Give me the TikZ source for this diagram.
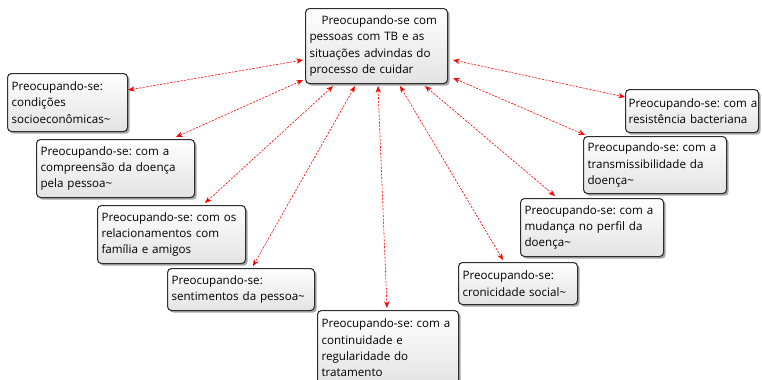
\documentclass[tikz,border=0pt]{standalone}
\usepackage{fontspec}
\setmainfont{Open Sans}
\usetikzlibrary{shadows,arrows.meta}
\def\px{0.75pt}
\tikzset{
  box/.style={draw=gray!35!black, line width=0.8pt, rounded corners=3pt,
    top color=white, bottom color=gray!22,
    drop shadow={shadow xshift=1.6pt, shadow yshift=-1.6pt, opacity=0.35, fill=black},
    anchor=north west, align=left, inner xsep=4*\px, inner ysep=3*\px,
    font=\fontsize{8.7pt}{12.3pt}\selectfont\frenchspacing, text=black},
  link/.style={red, line width=0.45pt, dash pattern=on 1.6pt off 1pt, {Stealth[length=5pt,width=4pt]}-{Stealth[length=5pt,width=4pt]}}
}
\begin{document}
\begin{tikzpicture}[x=0.75pt,y=-0.75pt]
\useasboundingbox (0,0) rectangle (762,379);
\node[box, text width=134*\px, minimum height=75*\px] (c) at (305,8) {\hspace*{9pt}Preocupando-se com\\pessoas com TB e as\\situações advindas do\\processo de cuidar};
\node[box, text width=112*\px, minimum height=58*\px] (a1) at (7,73) {Preocupando-se:\\condições\\socioeconômicas\textasciitilde};
\node[box, text width=150*\px, minimum height=58*\px] (a2) at (36,139) {Preocupando-se: com a\\compreensão da doença\\pela pessoa\textasciitilde};
\node[box, text width=140*\px, minimum height=58*\px] (a3) at (97,205) {Preocupando-se: com os\\relacionamentos com\\família e amigos};
\node[box, text width=139*\px, minimum height=42*\px] (a4) at (167,268) {Preocupando-se:\\sentimentos da pessoa\textasciitilde};
\node[box, text width=133*\px, minimum height=75*\px] (a5) at (317,310) {Preocupando-se: com a\\continuidade e\\regularidade do\\tratamento};
\node[box, text width=111*\px, minimum height=42*\px] (a6) at (458,262) {Preocupando-se:\\cronicidade social\textasciitilde};
\node[box, text width=135*\px, minimum height=58*\px] (a7) at (520,198) {Preocupando-se: com a\\mudança no perfil da\\doença\textasciitilde};
\node[box, text width=135*\px, minimum height=57*\px] (a8) at (583,136) {Preocupando-se: com a\\transmissibilidade da\\doença\textasciitilde};
\node[box, text width=127*\px, inner xsep=3*\px, minimum height=43*\px] (a9) at (625,89) {\mbox{Preocupando-se: com a}\\resistência bacteriana};

\draw[link] ([xshift=-2*\px,yshift=-52*\px]c.north west) -- ([yshift=-17*\px]a1.north east);
\draw[link] ([xshift=-2*\px,yshift=4*\px]c.south west) -- ([xshift=140*\px,yshift=2*\px]a2.north west);
\draw[link] ([xshift=28*\px,yshift=-2*\px]c.south west) -- ([xshift=108*\px,yshift=2*\px]a3.north west);
\draw[link] ([xshift=50*\px,yshift=-2*\px]c.south west) -- ([xshift=86*\px,yshift=2*\px]a4.north west);
\draw[link] ([xshift=73*\px,yshift=-2*\px]c.south west) -- ([xshift=70*\px,yshift=2*\px]a5.north west);
\draw[link] ([xshift=95*\px,yshift=-2*\px]c.south west) -- ([xshift=45*\px,yshift=2*\px]a6.north west);
\draw[link] ([xshift=120*\px,yshift=-2*\px]c.south west) -- ([xshift=35*\px,yshift=2*\px]a7.north west);
\draw[link] ([xshift=5*\px,yshift=-70*\px]c.north east) -- ([xshift=2*\px,yshift=1*\px]a8.north west);
\draw[link] ([xshift=5*\px,yshift=-52*\px]c.north east) -- ([xshift=0*\px,yshift=-8*\px]a9.north west);
\end{tikzpicture}
\end{document}
